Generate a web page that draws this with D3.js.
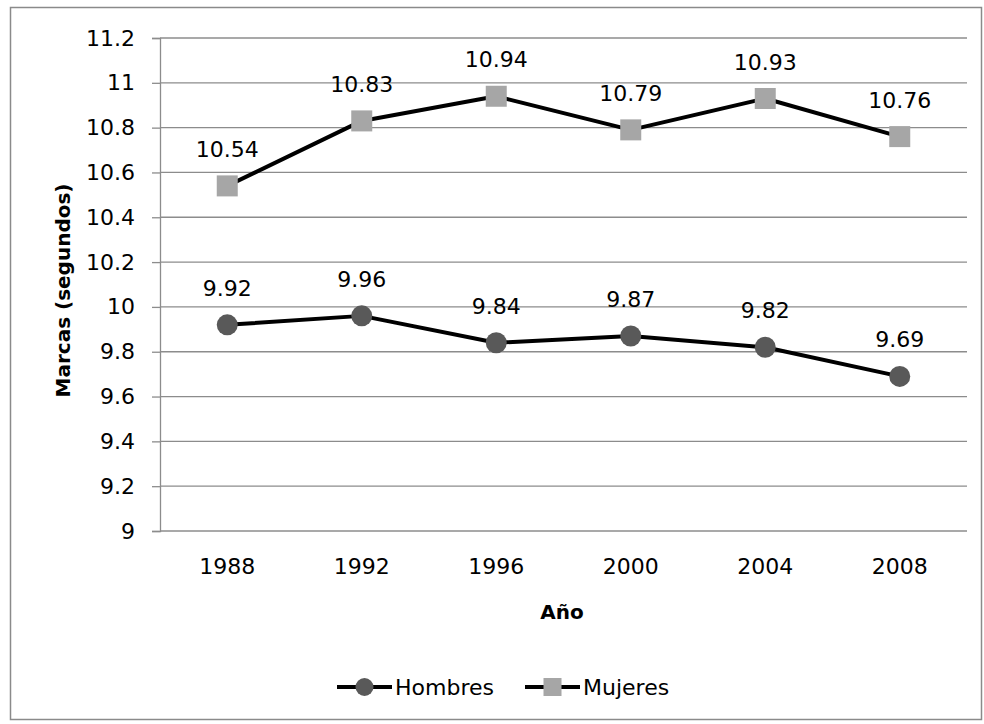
<!DOCTYPE html>
<html>
<head>
<meta charset="utf-8">
<script src="https://cdn.jsdelivr.net/npm/d3@7"></script>
<style>
  html, body { margin: 0; padding: 0; background: #fff; }
  svg { display: block; }
  text { font-family: "DejaVu Sans", sans-serif; fill: #000; }
</style>
</head>
<body>
<svg id="chart" width="984" height="724"></svg>
<script>
// Olympic 100 m winning times (seconds)
const years = ["1988", "1992", "1996", "2000", "2004", "2008"];
const hombres = [9.92, 9.96, 9.84, 9.87, 9.82, 9.69];
const mujeres = [10.54, 10.83, 10.94, 10.79, 10.93, 10.76];
const yTicks = [9, 9.2, 9.4, 9.6, 9.8, 10, 10.2, 10.4, 10.6, 10.8, 11, 11.2];
const seriesNames = ["Hombres", "Mujeres"];

const svg = d3.select("#chart");
const plot = { left: 160, right: 967, top: 38, bottom: 531 };
const fs = 22;

// outer frame
svg.append("rect")
  .attr("x", 10.5).attr("y", 7.5)
  .attr("width", 971).attr("height", 712)
  .attr("fill", "#fff").attr("stroke", "#8a8a8a").attr("stroke-width", 1.5);

const x = d3.scaleBand().domain(years).range([plot.left, plot.right]);
const y = d3.scaleLinear().domain([9, 11.2]).range([plot.bottom, plot.top]);

// horizontal gridlines
svg.append("g").selectAll("line").data(yTicks).join("line")
  .attr("x1", plot.left).attr("x2", plot.right)
  .attr("y1", d => y(d)).attr("y2", d => y(d))
  .attr("stroke", "#8c8c8c").attr("stroke-width", 1.3);

// y axis
const yAxis = d3.axisLeft(y).tickValues(yTicks).tickSize(8).tickPadding(17)
  .tickFormat(d => d3.format("")(+d.toFixed(1)));
const gy = svg.append("g").attr("transform", `translate(${plot.left},0)`).call(yAxis);
gy.select(".domain").attr("stroke", "#8c8c8c").attr("stroke-width", 1.3);
gy.selectAll(".tick line").attr("stroke", "#8c8c8c").attr("stroke-width", 1.3);
gy.selectAll("text").attr("font-size", fs).attr("font-family", "DejaVu Sans").attr("fill", "#000");

// x axis (labels only)
const xAxis = d3.axisBottom(x).tickSize(0).tickPadding(27);
const gx = svg.append("g").attr("transform", `translate(0,${plot.bottom})`).call(xAxis);
gx.select(".domain").remove();
gx.selectAll("text").attr("font-size", fs).attr("font-family", "DejaVu Sans").attr("fill", "#000");

// axis titles
svg.append("text")
  .attr("transform", `translate(70,${(plot.top + plot.bottom) / 2 + 6}) rotate(-90)`)
  .attr("text-anchor", "middle").attr("font-size", 20).attr("font-weight", "bold")
  .text("Marcas (segundos)");
svg.append("text")
  .attr("x", 562).attr("y", 619)
  .attr("text-anchor", "middle").attr("font-size", 20).attr("font-weight", "bold")
  .text("Año");

const cx = d => x(d) + x.bandwidth() / 2;
const line = d3.line().x(d => cx(d.year)).y(d => y(d.v));
const dataH = years.map((yr, i) => ({ year: yr, v: hombres[i] }));
const dataM = years.map((yr, i) => ({ year: yr, v: mujeres[i] }));

// series lines
[dataH, dataM].forEach(data => {
  svg.append("path").datum(data).attr("d", line)
    .attr("fill", "none").attr("stroke", "#000").attr("stroke-width", 4)
    .attr("stroke-linejoin", "round");
});

// markers
svg.append("g").selectAll("circle").data(dataH).join("circle")
  .attr("cx", d => cx(d.year)).attr("cy", d => y(d.v)).attr("r", 10.5)
  .attr("fill", "#595959");
const sq = 21;
svg.append("g").selectAll("rect").data(dataM).join("rect")
  .attr("x", d => cx(d.year) - sq / 2).attr("y", d => y(d.v) - sq / 2)
  .attr("width", sq).attr("height", sq)
  .attr("fill", "#a6a6a6");

// value labels
[dataH, dataM].forEach(data => {
  svg.append("g").selectAll("text").data(data).join("text")
    .attr("x", d => cx(d.year)).attr("y", d => y(d.v) - 29)
    .attr("text-anchor", "middle").attr("font-size", fs)
    .text(d => d.v);
});

// legend
const legend = svg.append("g");
const legendItems = [
  { name: seriesNames[0], x0: 337, shape: "circle" },
  { name: seriesNames[1], x0: 525, shape: "square" }
];
const ly = 687;
legendItems.forEach(it => {
  legend.append("line").attr("x1", it.x0).attr("x2", it.x0 + 55)
    .attr("y1", ly).attr("y2", ly).attr("stroke", "#000").attr("stroke-width", 4);
  if (it.shape === "circle") {
    legend.append("circle").attr("cx", it.x0 + 27.5).attr("cy", ly).attr("r", 9)
      .attr("fill", "#595959");
  } else {
    legend.append("rect").attr("x", it.x0 + 27.5 - 9).attr("y", ly - 9)
      .attr("width", 18).attr("height", 18).attr("fill", "#a6a6a6");
  }
  legend.append("text").attr("x", it.x0 + 58).attr("y", ly + 8)
    .attr("font-size", fs).text(it.name);
});
</script>
</body>
</html>
